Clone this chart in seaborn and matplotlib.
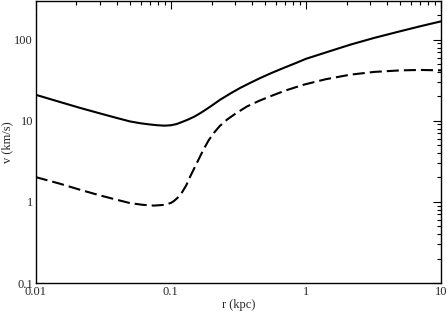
import pandas as pd
import numpy as np
import seaborn as sns
import matplotlib.pyplot as plt
from matplotlib.ticker import LogLocator, NullFormatter, FuncFormatter

# values (log-log)
r_total = [0.01, 0.015, 0.0213, 0.03, 0.04, 0.05, 0.06, 0.07, 0.08, 0.09, 0.1, 0.11,
           0.12, 0.135, 0.15, 0.165, 0.18, 0.2, 0.232, 0.28, 0.326, 0.39, 0.458, 0.55,
           0.682, 0.85, 1.0, 1.5, 2.13, 3.2, 5.0, 7.0, 10.0]
v_total = [20.9, 17.1, 14.4, 12.3, 10.8, 9.8, 9.3, 9.0, 8.8, 8.7, 8.8, 9.1,
           9.6, 10.4, 11.3, 12.4, 13.6, 15.3, 18.2, 22.0, 25.4, 29.5, 33.6, 38.5,
           44.7, 51.8, 58.0, 72.0, 86.7, 105.0, 127.0, 146.0, 168.0]

r_part = [0.01, 0.015, 0.0213, 0.03, 0.04, 0.05, 0.062, 0.075, 0.09, 0.1, 0.105, 0.11,
          0.115, 0.12, 0.13, 0.138, 0.147, 0.16, 0.174, 0.19, 0.207, 0.23, 0.26, 0.3,
          0.366, 0.45, 0.544, 0.7, 0.96, 1.4, 2.13, 3.2, 5.0, 7.0, 10.0]
v_part = [2.02, 1.68, 1.41, 1.2, 1.06, 0.965, 0.92, 0.9, 0.92, 0.97, 1.02, 1.09,
          1.17, 1.28, 1.6, 2.0, 2.48, 3.3, 4.38, 5.7, 7.0, 8.6, 10.3, 12.2,
          15.0, 17.6, 20.0, 23.5, 27.8, 32.5, 37.0, 40.0, 41.8, 42.3, 41.8]

df1 = pd.DataFrame({'r': r_total, 'v': v_total})
df2 = pd.DataFrame({'r': r_part, 'v': v_part})

sns.set_theme(style="white")
plt.rcParams['font.family'] = ['Liberation Serif', 'DejaVu Serif']

fig = plt.figure(figsize=(4.47, 3.11), dpi=100)
ax = fig.add_axes([0.08, 0.09, 0.9066, 0.907])

sns.lineplot(data=df1, x='r', y='v', color='black', linewidth=1.5, sort=False, ax=ax)
sns.lineplot(data=df2, x='r', y='v', color='black', linewidth=1.5, sort=False, ax=ax)
ax.lines[-1].set_dashes((5.8, 2.4))

ax.set_xscale('log')
ax.set_yscale('log')
ax.set_xlim(0.01, 10)
ax.set_ylim(0.1, 300)

fmt = FuncFormatter(lambda v, p: f"{v:g}")
ax.xaxis.set_major_locator(LogLocator(base=10))
ax.yaxis.set_major_locator(LogLocator(base=10))
ax.xaxis.set_minor_locator(LogLocator(base=10, subs=np.arange(2, 10)))
ax.yaxis.set_minor_locator(LogLocator(base=10, subs=np.arange(2, 10)))
ax.xaxis.set_major_formatter(fmt)
ax.yaxis.set_major_formatter(fmt)
ax.xaxis.set_minor_formatter(NullFormatter())
ax.yaxis.set_minor_formatter(NullFormatter())

ax.tick_params(which='both', direction='in', top=True, right=True,
               color='black', width=0.8, labelsize=9, pad=2)
ax.tick_params(which='major', length=5.5)
ax.tick_params(which='minor', length=3)

for s in ax.spines.values():
    s.set_color('black')
    s.set_linewidth(1.0)

ax.set_xlabel('r (kpc)', fontsize=9, labelpad=1)
ax.set_ylabel('v (km/s)', fontsize=9, labelpad=1)

fig.savefig('out.png', dpi=100)
